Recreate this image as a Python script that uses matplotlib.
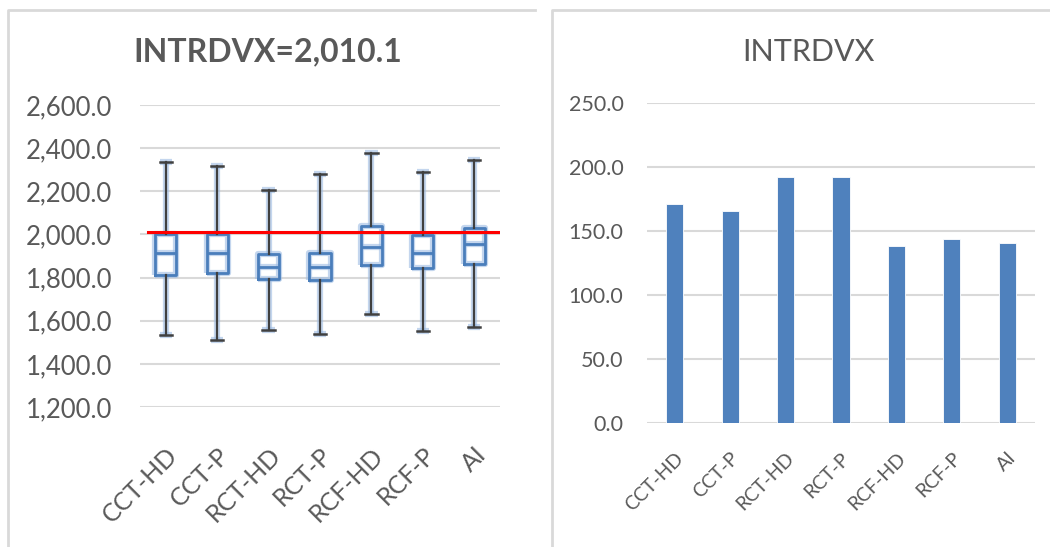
import matplotlib
matplotlib.use('Agg')
from matplotlib import pyplot as plt
from matplotlib.lines import Line2D
from matplotlib.ticker import FuncFormatter

plt.rcParams['font.family'] = ['Lato', 'DejaVu Sans']

# Groups shared by both charts
groups = ['CCT-HD', 'CCT-P', 'RCT-HD', 'RCT-P', 'RCF-HD', 'RCF-P', 'AI']

# Box plot statistics per group
whisk_low = [1533, 1512, 1559, 1539, 1630, 1553, 1570]
q1 = [1814, 1823, 1792, 1788, 1857, 1845, 1865]
median = [1916, 1916, 1848, 1848, 1943, 1916, 1955]
q3 = [2004, 2000, 1908, 1912, 2037, 1997, 2031]
whisk_high = [2334, 2317, 2206, 2281, 2377, 2291, 2346]
reference = 2010.1

# Bar values per group
intrdvx = [170.8, 165.9, 192.2, 192.4, 138.5, 143.8, 140.6]

txt = '#595959'
grid = '#d9d9d9'
W, H = 1050, 547

fig = plt.figure(figsize=(W / 100, H / 100), dpi=100)
fig.patch.set_facecolor('white')

def px_axes(x0, y0, x1, y1):
    return fig.add_axes([x0 / W, 1 - y1 / H, (x1 - x0) / W, (y1 - y0) / H])

# panel frames
for xs, ys in [([7.5, 7.5, 535], [H, 9.5, 9.5]), ([552, 552, W], [H, 9.5, 9.5])]:
    fig.add_artist(Line2D([x / W for x in xs], [1 - y / H for y in ys],
                          transform=fig.transFigure, color=grid, lw=2))

# ---- left: box plot ----
ax1 = px_axes(140, 105, 500, 407)
stats = []
for i, g in enumerate(groups):
    stats.append({'label': g, 'whislo': whisk_low[i], 'q1': q1[i], 'med': median[i],
                  'q3': q3[i], 'whishi': whisk_high[i], 'fliers': []})
pos = list(range(len(groups)))

# soft glow under the boxes and whiskers
glow = dict(color='#9dbce3', lw=4.5, alpha=0.6, solid_capstyle='butt')
ax1.bxp(stats, positions=pos, widths=0.41, capwidths=0.24, showfliers=False,
        boxprops=glow, whiskerprops=glow, capprops=glow, medianprops=glow,
        manage_ticks=False, zorder=2)
ax1.bxp(stats, positions=pos, widths=0.41, capwidths=0.24, showfliers=False,
        boxprops=dict(color='#4a7ebb', lw=2),
        whiskerprops=dict(color='#404040', lw=1.6),
        capprops=dict(color='#404040', lw=1.8),
        medianprops=dict(color='#4a7ebb', lw=2),
        manage_ticks=False, zorder=3)
ax1.axhline(reference, xmin=8 / 360, xmax=1.0, color='red', lw=2.2, zorder=4)

ax1.set_xlim(-0.5, len(groups) - 0.5)
ax1.set_ylim(1200, 2600)
ax1.set_yticks(range(1200, 2601, 200))
ax1.yaxis.set_major_formatter(FuncFormatter(lambda v, p: '{:,.1f}'.format(v)))
ax1.set_xticks(pos)
ax1.set_xticklabels(groups, rotation=45, ha='right', rotation_mode='anchor')
ax1.tick_params(axis='y', labelsize=18.5, labelcolor=txt, length=0, pad=20)
ax1.tick_params(axis='x', labelsize=18, labelcolor=txt, length=0, pad=26)
ax1.grid(axis='y', color=grid, lw=1.5, zorder=0)
ax1.set_axisbelow(True)
for s in ax1.spines.values():
    s.set_visible(False)
fig.text(268 / W, 1 - 52 / H, 'INTRDVX=' + '{:,.1f}'.format(reference),
         ha='center', va='center', fontsize=23, fontweight='bold', color=txt)

# ---- right: bar chart ----
ax2 = px_axes(647, 103, 1035, 423)
ax2.bar(pos, intrdvx, width=0.31, color='#4f81bd', edgecolor='white', lw=0.6, zorder=3)
ax2.set_xlim(-0.5, len(groups) - 0.5)
ax2.set_ylim(0, 250)
ax2.set_yticks(range(0, 251, 50))
ax2.yaxis.set_major_formatter(FuncFormatter(lambda v, p: '{:.1f}'.format(v)))
ax2.set_xticks(pos)
ax2.set_xticklabels(groups, rotation=45, ha='right', rotation_mode='anchor')
ax2.tick_params(axis='y', labelsize=15.5, labelcolor=txt, length=0, pad=17)
ax2.tick_params(axis='x', labelsize=14, labelcolor=txt, length=0, pad=19)
ax2.grid(axis='y', color=grid, lw=1.5, zorder=0)
ax2.set_axisbelow(True)
for s in ax2.spines.values():
    s.set_visible(False)
fig.text(808 / W, 1 - 52 / H, 'INTRDVX', ha='center', va='center',
         fontsize=22, color=txt)

fig.savefig('out.png', dpi=100, facecolor='white')
